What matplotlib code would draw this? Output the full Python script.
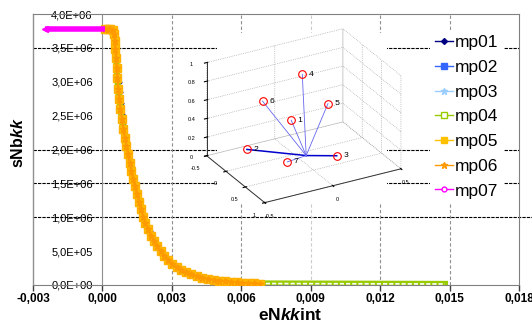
import numpy as np
import matplotlib
matplotlib.use("Agg")
import matplotlib.pyplot as plt
from matplotlib.lines import Line2D

# ── data (strain in 1e-3, stress in 1e6) ──────────────────────────────────────
base_strain = [0.10, 0.22, 0.34, 0.44, 0.50, 0.53, 0.56, 0.59, 0.62, 0.65,
               0.68, 0.73, 0.78, 0.84, 0.90, 0.97, 1.04, 1.11, 1.18, 1.25,
               1.32, 1.40, 1.48, 1.57, 1.66, 1.76, 1.86, 1.97, 2.09, 2.22,
               2.36, 2.51, 2.67, 2.84, 3.02, 3.21, 3.41, 3.62, 3.84, 4.07,
               4.31, 4.55, 4.80, 5.05, 5.30, 5.55, 5.80, 6.05, 6.30, 6.55, 6.80]
base_stress = [3.78, 3.78, 3.78, 3.77, 3.70, 3.60, 3.48, 3.35, 3.20, 3.05,
               2.90, 2.75, 2.60, 2.45, 2.30, 2.17, 2.05, 1.93, 1.80, 1.68,
               1.57, 1.46, 1.35, 1.23, 1.12, 1.00, 0.91, 0.82, 0.73, 0.65,
               0.57, 0.50, 0.43, 0.37, 0.31, 0.26, 0.22, 0.185, 0.155, 0.13,
               0.11, 0.092, 0.078, 0.066, 0.056, 0.048, 0.041, 0.035, 0.030, 0.026, 0.022]

mp01_strain = [0.10, 0.40, 0.52, 0.58, 0.62, 0.66, 0.70, 0.74, 0.79, 0.84,
               0.90, 0.96, 1.03, 1.10, 1.17, 1.24, 1.31, 1.39, 1.48, 1.57,
               1.67, 1.78, 2.05, 2.40, 2.85, 3.40, 4.10, 5.00, 6.00, 6.80]
mp01_stress = [3.78, 3.78, 3.72, 3.52, 3.35, 3.18, 3.00, 2.85, 2.68, 2.52,
               2.36, 2.21, 2.08, 1.95, 1.82, 1.70, 1.59, 1.48, 1.37, 1.25,
               1.13, 1.01, 0.79, 0.58, 0.38, 0.23, 0.13, 0.068, 0.036, 0.022]

mp04_tail_strain = [14.80]
mp04_tail_stress = [0.015]

mp07_strain = [-2.50, 0.10]
mp07_stress = [3.78, 3.78]

series_names = ["mp01", "mp02", "mp03", "mp04", "mp05", "mp06", "mp07"]

x_ticks = [-0.003, 0.000, 0.003, 0.006, 0.009, 0.012, 0.015, 0.018]
x_tick_labels = ["-0,003", "0,000", "0,003", "0,006", "0,009", "0,012", "0,015", "0,018"]
y_ticks = [0, 0.5e6, 1.0e6, 1.5e6, 2.0e6, 2.5e6, 3.0e6, 3.5e6, 4.0e6]
y_tick_labels = ["0,0E+00", "5,0E+05", "1,0E+06", "1,5E+06", "2,0E+06",
                 "2,5E+06", "3,0E+06", "3,5E+06", "4,0E+06"]
dashed_levels = [3.5e6, 2.0e6, 1.5e6]
long_level = 1.0e6

# inset: 7 direction points, drawn from a common hub
pt_labels = ["1", "2", "3", "4", "5", "6", "7"]
pt_x = [0.10, -0.41, 0.29, 0.07, 0.10, 0.10, 0.14]
pt_y = [-0.05, -0.23, 0.23, 0.04, 0.22, -0.26, -0.09]
pt_z = [0.42, 0.00, 0.00, 0.87, 0.50, 0.70, 0.00]
hub = (0.10, 0.06, 0.0)
inset_xticks = [-0.5, 0, 0.5, 1]
inset_yticks = [-0.5, 0, 0.5]
inset_zticks = [0, 0.2, 0.4, 0.6, 0.8, 1]

S, P = 1e-3, 1e6

plt.rcParams["font.family"] = ["Liberation Sans", "DejaVu Sans"]
plt.rcParams["mathtext.fontset"] = "custom"
plt.rcParams["mathtext.it"] = "Liberation Sans:italic:bold"
plt.rcParams["mathtext.rm"] = "Liberation Sans:bold"

fig = plt.figure(figsize=(5.32, 3.24), dpi=100)
ax = fig.add_axes([33 / 532, 1 - 285 / 324, 486 / 532, 271 / 324])

# ── main curves ──────────────────────────────────────────────────────────────
bx = np.array(base_strain) * S
by = np.array(base_stress) * P

ax.plot(np.array(mp01_strain) * S, np.array(mp01_stress) * P, color="#000080",
        lw=1, marker="D", ms=2.5, zorder=3)
ax.plot(bx, by, color="#3366FF", lw=1, marker="s", ms=3, zorder=3)
ax.plot(bx, by, color="#99CCFF", lw=1, marker="*", ms=3, zorder=3)

x4 = np.concatenate([bx, np.array(mp04_tail_strain) * S])
y4 = np.concatenate([by, np.array(mp04_tail_stress) * P])
ax.plot(x4, y4, color="#99CC00", lw=4.5, zorder=3)
ax.plot(x4, y4, color="white", lw=1.2, ls=(0, (2.5, 1.2)), zorder=3)

ax.plot(bx, by, color="#FFC000", lw=1.2, marker="s", ms=5.3, mec="#FFB000", zorder=4)
ax.plot(bx, by, color="#FF9900", lw=1.5, marker="*", ms=4.5, zorder=4)

m7x = np.array(mp07_strain) * S
m7y = np.array(mp07_stress) * P
ax.plot(m7x, m7y, color="#FF00FF", lw=4, solid_capstyle="butt", zorder=5)
ax.plot(m7x[:1], m7y[:1], color="#FF00FF", marker="<", ms=5, lw=0, zorder=5)

# ── axes styling ─────────────────────────────────────────────────────────────
ax.set_xlim(-0.003, 0.018)
ax.set_ylim(0, 4e6)
for lvl in dashed_levels:
    ax.axhline(lvl, color="black", lw=0.8, ls=(0, (3, 1)), zorder=1)
ax.axhline(long_level, xmax=1.03, color="black", lw=0.8, ls=(0, (3, 1)),
           zorder=1, clip_on=False)
for xv in x_ticks[2:-1]:
    c = "#cccccc" if abs(xv - 0.009) < 1e-9 else "#909090"
    ax.axvline(xv, color=c, lw=0.8, ls=(0, (3, 2)), zorder=1)
ax.axvline(-0.003, color="#909090", lw=1, clip_on=False)

for s in ["top", "right", "bottom"]:
    ax.spines[s].set_color("#808080")
ax.spines["left"].set_position(("data", 0))
ax.spines["left"].set_color("#909090")

ax.set_xticks(x_ticks)
ax.set_xticklabels(x_tick_labels, fontsize=8.5, fontweight="bold")
ax.set_yticks(y_ticks)
ax.set_yticklabels(y_tick_labels, fontsize=8)
ax.tick_params(axis="x", direction="out", length=4, width=1, pad=2, color="#404040")
ax.tick_params(axis="y", length=0, pad=7)

fig.text(290 / 532, 1 - 315 / 324, r"eN$kk$int", fontsize=12.5, fontweight="bold",
         ha="center", va="center")
fig.text(18 / 532, 1 - 143 / 324, r"sNb$kk$", fontsize=11.5, fontweight="bold",
         ha="center", va="center", rotation=90)

# ── legend ───────────────────────────────────────────────────────────────────
handles = [
    Line2D([], [], color="#000080", lw=1, marker="D", ms=3),
    Line2D([], [], color="#3366FF", lw=1, marker="s", ms=4),
    Line2D([], [], color="#99CCFF", lw=1, marker="*", ms=5),
    Line2D([], [], color="#99CC00", lw=1, marker="s", ms=4, mfc="white"),
    Line2D([], [], color="#FFC000", lw=1, marker="s", ms=4),
    Line2D([], [], color="#FF9900", lw=1, marker="*", ms=5),
    Line2D([], [], color="#FF00FF", lw=1, marker="o", ms=3.5, mfc="white"),
]
leg = ax.legend(handles, series_names, loc="upper left",
                bbox_to_anchor=(430 / 532, 1 - 30 / 324), bbox_transform=fig.transFigure,
                fontsize=12.5, handlelength=1.0, handletextpad=0.15,
                labelspacing=0.55, borderpad=0.3, borderaxespad=0,
                frameon=True, fancybox=False, framealpha=1, edgecolor="none")

# ── 3D inset ─────────────────────────────────────────────────────────────────
ax3 = fig.add_axes([188 / 532, 1 - 203 / 324, 227 / 532, 170 / 324], projection="3d")
ax3.set_proj_type("ortho")
ax3.view_init(elev=26.6, azim=-29)
ax3.set_box_aspect((123, 160, 107), zoom=1.27)
ax3.set_xlim(-0.5, 1)
ax3.set_ylim(-0.5, 0.5)
ax3.set_zlim(0, 1)
ax3.set_xticks(inset_xticks)
ax3.set_xticklabels([f"{v:g}" for v in inset_xticks])
ax3.set_yticks(inset_yticks)
ax3.set_yticklabels([f"{v:g}" for v in inset_yticks])
ax3.set_zticks(inset_zticks)
ax3.set_zticklabels([f"{v:g}" for v in inset_zticks])
for a in (ax3.xaxis, ax3.yaxis, ax3.zaxis):
    a.set_pane_color((1, 1, 1, 0))
    a._axinfo["grid"].update(color="#999999", linestyle=":", linewidth=0.5)
    a.line.set_color("#333333")
    a.line.set_linewidth(0.7)
ax3.zaxis.set_ticks_position("lower")
ax3.tick_params(labelsize=4, pad=-3)

for px, py, pz, lab in zip(pt_x, pt_y, pt_z, pt_labels):
    thick = lab in ("2", "3")
    ax3.plot([hub[0], px], [hub[1], py], [hub[2], pz],
             color="#0000CC" if thick else "#6666EE", lw=1.1 if thick else 0.6)
    ax3.plot([px], [py], [pz], marker="o", ms=5.5, mfc="none", mec="red", mew=0.8)
    ax3.text(px, py, pz, "   " + lab, fontsize=6, ha="left", va="center")

fig.savefig("out.png", dpi=100)
